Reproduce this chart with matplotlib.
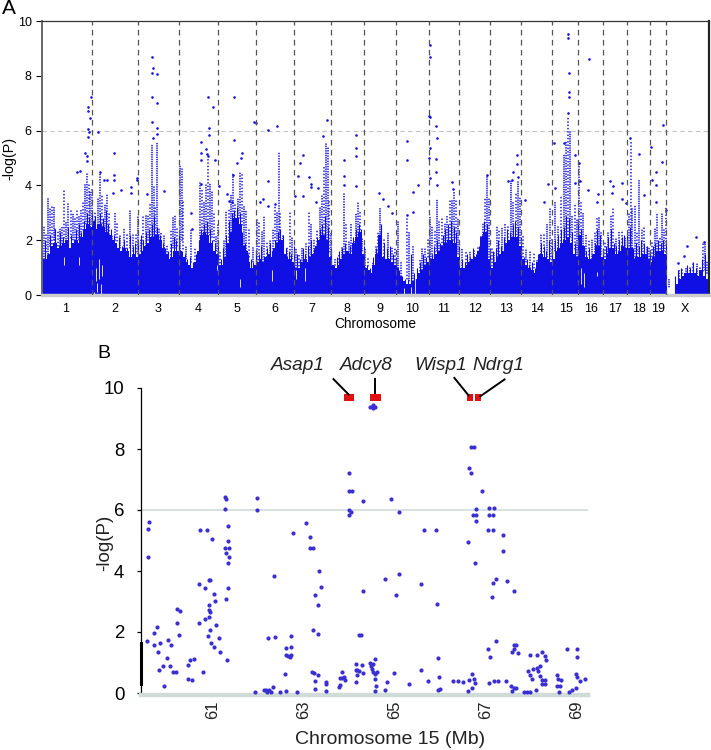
import numpy as np
import matplotlib
matplotlib.use('Agg')
import matplotlib.pyplot as plt

plt.rcParams['font.family'] = ['Liberation Sans', 'DejaVu Sans']

W, H = 711, 750

# --- Panel A: genome scan, x in plot position units ---
chrom_bounds = [42, 92, 138, 179, 218, 256, 294, 331, 364, 396, 429, 459, 490,
                521, 552, 578, 603, 627, 650, 666, 709]
chrom_labels = ['1', '2', '3', '4', '5', '6', '7', '8', '9', '10', '11', '12',
                '13', '14', '15', '16', '17', '18', '19', 'X']
chrom_centers = [66, 115, 158, 198, 236.5, 275, 312, 347, 380, 412.5, 444, 475,
                 506, 537, 565.5, 591, 615, 639, 658.5, 685]

# height of the solid mass along each chromosome
solid_tops = [
    [1.3, 1.3, 1.5, 1.8, 1.9, 1.7, 1.8, 1.9, 2.0, 1.7, 1.9, 2.0, 1.9, 2.1, 2.4, 2.6, 2.5],
    [2.7, 2.4, 2.6, 2.5, 2.3, 2.2, 2.0, 1.9, 1.7, 1.6, 1.7, 1.6, 1.4, 1.5, 1.4],
    [1.5, 1.6, 1.8, 1.9, 2.1, 2.1, 2.2, 2.0, 1.7, 1.5, 1.3, 1.4, 1.6, 1.6],
    [1.6, 1.4, 1.2, 1.1, 1.0, 1.2, 1.6, 2.2, 2.3, 2.2, 1.9, 1.6, 1.5],
    [1.1, 1.1, 1.4, 1.9, 2.3, 2.8, 2.8, 2.6, 1.8, 1.6, 1.2, 1.0, 1.1],
    [1.2, 1.3, 1.2, 1.4, 1.5, 1.4, 1.7, 1.9, 2.0, 1.5, 1.4, 1.3, 1.2],
    [1.0, 1.0, 1.2, 1.3, 1.2, 1.4, 1.5, 1.8, 2.0, 2.2, 2.0, 1.4],
    [1.1, 1.0, 1.1, 1.3, 1.5, 1.6, 1.5, 1.9, 2.1, 2.3, 1.5],
    [1.0, 0.9, 0.8, 1.1, 1.5, 2.2, 1.4, 1.3, 1.3, 1.2, 1.1],
    [1.0, 0.7, 0.5, 0.4, 0.4, 0.5, 0.6, 0.8, 0.9, 1.1, 1.2],
    [1.3, 1.3, 1.5, 1.6, 1.8, 1.9, 2.0, 2.0, 1.9, 1.4],
    [1.0, 1.0, 1.1, 1.2, 1.3, 1.4, 1.6, 2.1, 2.3, 1.3],
    [1.0, 1.2, 1.4, 1.5, 1.6, 1.9, 2.0, 2.1, 2.1, 1.8],
    [1.3, 1.1, 1.0, 0.9, 0.8, 1.2, 1.5, 1.4, 1.3, 1.2],
    [1.3, 1.6, 1.7, 1.9, 2.0, 2.1, 1.9, 1.5, 1.4],
    [2.2, 1.8, 1.4, 1.3, 1.3, 1.5, 1.8, 1.4],
    [1.3, 1.5, 1.7, 1.7, 1.5, 1.6, 1.8, 1.7],
    [1.7, 1.7, 1.3, 1.4, 1.4, 1.5, 1.5, 1.3],
    [1.2, 1.4, 1.6, 1.6, 1.6, 1.5],
]
x_tops = [0.4, 0.6, 0.7, 0.8, 0.8, 0.8, 0.8, 0.7, 0.9, 0.7, 0.6]
x_span = (675, 708)

# thin spikes rising out of the mass
spike_tops = [
    [1.6, 2.0, 1.5, 2.2, 1.9, 2.4, 1.7, 2.3, 2.1, 1.6, 2.5, 2.2, 1.9, 2.4, 2.6, 2.3, 2.7, 3.0, 2.8, 3.1],
    [3.0, 2.9, 2.6, 3.0, 2.8, 3.1, 2.6, 2.4, 2.2, 1.9, 2.1, 1.8, 2.0, 1.7, 2.2, 1.8, 1.9, 2.0],
    [1.9, 2.2, 2.0, 2.3, 2.4, 2.6, 2.9, 2.5, 2.2, 1.9, 1.7, 1.6, 1.9, 2.1, 2.0, 2.2],
    [1.9, 1.6, 1.5, 1.3, 1.4, 1.2, 1.5, 2.0, 2.4, 2.6, 2.7, 2.4, 2.0, 1.9, 1.8],
    [1.4, 1.3, 1.7, 2.2, 2.7, 3.0, 3.1, 3.2, 3.0, 2.3, 1.9, 1.5, 1.3, 1.2, 1.5],
    [1.6, 1.5, 1.8, 1.4, 1.7, 1.9, 1.6, 2.0, 2.3, 2.4, 2.2, 1.7, 1.6, 1.5, 1.8],
    [1.2, 1.5, 1.3, 1.7, 1.5, 1.8, 2.0, 1.7, 2.1, 2.4, 2.6, 2.9, 2.5, 1.7],
    [1.3, 1.1, 1.4, 1.6, 1.7, 1.9, 1.6, 1.8, 2.1, 2.4, 2.6, 2.4, 1.8],
    [1.2, 1.1, 1.0, 1.4, 1.7, 2.0, 2.6, 1.9, 1.7, 1.8, 1.5, 1.4],
    [1.3, 0.9, 0.7, 0.6, 0.6, 1.5, 0.8, 1.0, 1.2, 1.5, 1.4, 1.6],
    [1.6, 1.5, 1.8, 2.0, 1.9, 2.2, 2.4, 2.6, 2.7, 2.5, 2.3, 1.8],
    [1.2, 1.3, 1.2, 1.5, 1.4, 1.7, 1.5, 1.8, 2.2, 2.7, 2.6, 1.7],
    [1.3, 1.6, 1.7, 2.0, 1.8, 2.1, 2.4, 2.3, 2.6, 2.7, 2.5, 2.1],
    [1.7, 1.4, 1.3, 1.1, 1.2, 1.0, 1.5, 1.9, 1.8, 1.6, 2.0, 1.6],
    [1.8, 2.0, 2.2, 2.4, 2.5, 2.9, 2.8, 2.3, 1.9, 1.7],
    [2.7, 2.4, 1.8, 1.6, 1.7, 1.5, 1.9, 2.4, 2.2, 1.7],
    [1.6, 1.8, 2.1, 2.4, 1.9, 1.8, 2.0, 2.1, 2.2, 2.0],
    [2.2, 2.5, 1.7, 1.9, 1.8, 2.0, 1.9, 1.8, 1.6],
    [1.5, 1.8, 1.9, 2.0, 1.9, 2.0, 1.9],
]
x_spikes = [.7, .9, 1.0, .8, 1.1, 1.0, 1.2, 1.0, .9, 1.3, 1.5, 1.0]

# white gaps in the mass: position, low, high
gaps = [(94, 0.0, 0.12), (95.5, 0.5, 1.0), (97, 0.1, 0.45), (98.5, 0.6, 1.3), (100.5, 0.0, 0.4),
        (101.5, 0.7, 1.1), (64, 1.1, 1.4), (79, 1.1, 1.4), (217, 0.9, 1.1), (239.5, 0.3, 0.6),
        (272, 0.5, 0.9), (304.5, 0.5, 1.0), (296, 0.6, 0.9), (404, 0.0, 0.25), (411, 0.0, 0.3),
        (414.5, 0.0, 0.9), (581, 0.4, 1.0), (583.5, 0.3, 0.8), (597, 0.7, 0.85), (668, 0.0, 0.2)]

# speckled columns above the mass: position, low, high
stems = [
    (44, 1.3, 2.5), (46, 1.5, 2.2), (48, 1.5, 3.5), (50, 1.8, 3.2), (52, 1.8, 3.2), (53.5, 2, 3.2),
    (55, 1.7, 2.4), (58, 1.7, 2.3), (60, 1.7, 2.4), (62, 1.8, 2.5), (64, 2, 3.8), (65.5, 1.8, 2.65),
    (68, 1.8, 3.4), (71, 2, 3.1), (73, 2, 3.0), (75, 2, 2.8), (77, 2, 3.1), (79, 2, 2.9), (81, 2.1, 3.1),
    (83, 2.3, 3.4), (85, 2.6, 4.1), (87, 2.6, 4.4), (88.5, 2.6, 4.0), (90, 2.5, 3.8), (92, 2.6, 3.9),
    (95, 2.4, 3.0), (98, 2.5, 3.5), (100, 2.5, 4.5), (102, 2.3, 3.6), (105, 2, 3.3), (107, 2, 3.7),
    (109, 1.9, 3.0), (112, 1.8, 2.2), (115, 2, 3), (117, 1.9, 2.7), (120, 1.7, 2.2), (124, 1.7, 2.4),
    (127, 1.5, 2.3), (130, 1.7, 3.1), (133, 1.6, 2.2), (136, 1.5, 2.3), (137.5, 1.5, 2.9),
    (141, 1.6, 2.0), (143, 1.8, 2.9), (146, 1.8, 2.9), (148, 2, 2.9), (150, 2.1, 3.4), (152, 2.1, 5.5),
    (153.5, 2.1, 4.0), (155, 2.1, 3.2), (157, 2.2, 5.6), (159, 2, 2.5), (161, 1.8, 2.3), (164, 1.7, 2.2),
    (167, 1.4, 1.8), (171, 1.4, 2.4), (173, 1.7, 2.9), (175, 1.7, 2.9), (177, 1.7, 2.4), (180, 1.6, 4.7),
    (181.5, 2, 4.6), (183, 1.6, 3.4), (186, 1.3, 1.8), (191, 1.2, 2.4), (195, 1.1, 1.7), (198, 1.3, 1.6),
    (200, 1.8, 4.1), (202, 1.8, 3.9), (204, 2.2, 3.4), (206, 2.2, 4.1), (208, 2.2, 5.0), (210, 2.2, 4.1),
    (212, 2.1, 3.8), (214, 1.9, 3), (216, 1.6, 2.2), (217.5, 1.5, 2.6), (220, 1.1, 1.6), (224, 1.2, 2),
    (226, 1.4, 3.1), (229, 1.8, 3.1), (231, 1.8, 3.7), (233, 2, 4.4), (235, 2.6, 3.3), (238, 2.8, 3.5),
    (240, 2.8, 4.5), (242, 2.5, 4.4), (244, 1.8, 3.3), (246, 1.6, 3.1), (249, 1.3, 2.5), (253, 1.2, 1.8),
    (257, 1.2, 2.8), (259, 1.2, 2.7), (262, 1.2, 2.3), (264, 1.2, 2.9), (267, 1.3, 1.9), (270, 1.2, 2.0),
    (273, 1.5, 2.4), (275, 1.9, 3.3), (277, 1.9, 3.0), (278.5, 2, 5.2), (280, 1.8, 3.0), (283, 1.4, 2.2),
    (287, 1.3, 1.8), (290, 1.2, 3.0), (292, 1.3, 2.1), (296, 1, 1.7), (299, 1, 1.5), (302, 1.1, 1.7),
    (306, 1.1, 1.9), (309, 1.2, 3), (311, 1.4, 2.6), (314, 1.3, 2.0), (317, 1.4, 2.4), (320, 1.5, 3.2),
    (322, 1.8, 3.6), (324, 1.9, 4.7), (326, 2.0, 5.5), (327.5, 2.0, 5.4), (329, 1.5, 3.5), (331, 1.3, 2.3),
    (335, 1.1, 1.3), (339, 1, 1.5), (342, 1.2, 1.8), (344, 1.4, 3.7), (346, 1.4, 2.6), (349, 1.5, 2),
    (351, 1.6, 2.6), (354, 1.5, 2.0), (356, 2, 3.0), (358, 2.0, 3.4), (360, 2.2, 3.1), (362, 1.6, 2.1),
    (365, 1.0, 1.7), (368, 1, 1.4), (373, 0.8, 1.2), (376, 1.0, 1.8), (378, 1.3, 2.3), (379.5, 1.4, 3.2),
    (381, 1.5, 2.3), (384, 1.3, 2.1), (388, 1.3, 2.3), (392, 1.3, 1.7), (395, 1.1, 1.7), (398, 1.0, 2.7),
    (401, .7, 1.2), (407, .5, 2.9), (409, .5, 2.3), (413, .5, 1.8), (420, .8, 1.3), (422, .9, 1.7),
    (425, 1.1, 1.7), (428, 1.3, 2.0), (430, 1.3, 2.9), (432, 1.3, 2.5), (435, 1.5, 2.4), (437, 1.6, 3.5),
    (439, 1.6, 2.7), (442, 1.7, 2.9), (445, 1.9, 2.6), (447, 1.9, 2.9), (450, 2, 3.5), (452, 2, 3.5),
    (454, 2, 3.8), (456, 2, 3.5), (458, 1.5, 2.8), (462, 1.0, 1.7), (466, 1.1, 1.6), (470, 1.2, 1.6),
    (474, 1.3, 1.6), (478, 1.4, 1.8), (481, 1.6, 2.2), (483, 1.7, 2.6), (485, 2.2, 3.5), (487, 2.3, 4.3),
    (489, 1.4, 3.5), (492, 1.0, 1.8), (494, 1.1, 1.6), (497, 1.3, 2.5), (499, 1.4, 2.4), (502, 1.5, 2.5),
    (505, 1.6, 2.6), (508, 1.8, 2.5), (511, 1.9, 4.2), (513, 2.1, 3.4), (516, 2.0, 3.7), (518, 2.1, 4.2),
    (520, 1.9, 3.6), (523, 1.3, 2.2), (526, 1.2, 1.7), (530, 1.0, 1.6), (534, 0.9, 1.5), (537, 1, 1.3),
    (541, 1.3, 2.2), (544, 1.5, 2.3), (547, 1.4, 2.6), (550, 1.3, 3.2), (552, 1.2, 2.1), (555, 1.6, 3.4),
    (558, 1.7, 2.5), (561, 1.9, 3.6), (564, 2.0, 5.1), (566, 2.1, 5.6), (568, 2.1, 6.5), (569.5, 2.1, 6.0),
    (572, 1.9, 2.9), (575, 1.6, 3.3), (577, 1.4, 2.8), (579, 2.2, 4.8), (581, 2.2, 3.4), (583, 1.8, 3.0),
    (586, 1.5, 2.2), (589, 1.4, 2.0), (592, 1.3, 2.0), (595, 1.4, 2.3), (597, 1.6, 2.9), (599, 1.7, 2.9),
    (601, 1.5, 2.3), (605, 1.3, 1.9), (608, 1.5, 2.3), (611, 1.7, 2.9), (613, 1.7, 3.2), (616, 1.6, 2.1),
    (619, 1.6, 2.3), (622, 1.7, 2.3), (625, 1.7, 2.1), (629, 1.6, 3.0), (630.5, 1.7, 5.6), (632, 1.7, 3.2),
    (635, 1.3, 3.3), (637, 1.3, 2.3), (639.3, 1.5, 4.2), (642, 1.5, 2.4), (644, 1.4, 2.5), (647, 1.4, 1.8),
    (649, 1.3, 1.7), (652, 1.2, 1.9), (655, 1.4, 2.4), (657, 1.5, 3.0), (660, 1.6, 2.1), (662, 1.6, 3.0),
    (664, 1.6, 2.4), (665.5, 1.5, 3.2), (669, .3, .6), (679, .4, .9), (682, .6, 1.0), (686, .7, 1.0),
    (690, .7, 1.0), (693, .8, 1.2), (697, .7, 1.2), (700, .7, 1.0), (703, .8, 1.9), (705, .9, 1.95),
    (707, .8, 1.2),
]

# single points standing clear of the mass
peaks_x = [152, 152.7, 152.3, 157, 152.3, 157, 152.3, 157.3, 157.3, 152.7,
           90.7, 87.7, 87.7, 89.7, 87.7, 89.3, 98, 87.7, 84.7, 87.3, 86.7, 76.7, 80.3,
           114, 114, 114, 100.3, 104.3, 106.7, 121, 113.3, 131, 131, 137.3, 137.3, 147.3, 164.3,
           208, 212.7, 209, 209, 201, 201.3, 206, 207.3, 208.3, 214.7, 201.3, 200.7, 191, 191.7,
           234.3, 234.3, 237.3, 233.3, 242, 241, 226.7, 229, 231.7, 219,
           254, 256, 267.7, 276.7, 268.3, 260, 262.7, 268, 274.7,
           300.3, 303.3, 298.3, 309.3, 310.7, 310.7, 318.3, 303.3, 295, 316, 327.3, 323.3,
           344, 356, 356, 356, 344.3, 344.3, 356,
           379, 383.3, 387.7, 392.3, 407.3, 407.3, 417.7, 413.3, 413, 407.3,
           429.7, 429.7, 429, 430.3, 436.3, 436.7, 430.3, 429, 436.3, 436.3, 429.7, 437, 451.7, 453.3,
           486.7, 517, 517, 512.7, 511.7, 508.3, 518.3, 525,
           554, 548.3, 555, 544, 568.3, 568.3, 569, 569, 569, 568.3, 564.3, 575, 579, 575.3, 580,
           589, 587.7, 598.3, 597, 609.7, 613.3, 612.3, 621.7, 621.7, 625.7,
           630, 639, 644.3, 663.3, 651, 662.3, 656, 652.3, 656, 656, 665.7,
           695.7, 686.7, 684.3, 677.7, 704.3]
peaks_y = [8.7, 8.3, 8.1, 8.05, 7.23, 7.0, 6.33, 6.1, 5.88, 5.73,
           7.24, 6.87, 6.73, 6.45, 6.07, 5.95, 5.96, 5.76, 5.18, 5.06, 4.9, 4.49, 4.51,
           5.2, 4.39, 4.2, 4.5, 4.2, 4.2, 3.83, 3.72, 3.93, 3.74, 4.27, 4.2, 3.68, 3.78,
           7.24, 6.85, 6.1, 5.83, 5.59, 5.18, 5.34, 5.15, 5.06, 4.94, 4.94, 4.05, 3.0, 2.4,
           7.23, 5.67, 4.82, 4.39, 5.18, 5.0, 3.7, 3.44, 3.41, 3.96,
           6.33, 6.26, 6.02, 6.17, 4.15, 3.41, 3.5, 3.26, 3.32,
           4.82, 5.1, 4.35, 4.29, 4.05, 3.94, 3.9, 3.6, 3.6, 3.41, 6.4, 5.8,
           4.94, 5.83, 5.37, 5.08, 4.33, 4.02, 3.96,
           3.72, 3.51, 3.23, 2.99, 5.63, 4.91, 4.02, 3.76, 3.04, 2.91,
           9.12, 8.7, 6.52, 6.49, 6.16, 5.73, 5.37, 5.0, 4.96, 4.5, 4.27, 4.0, 4.11, 3.87,
           4.37, 5.1, 4.77, 4.5, 4.2, 4.15, 4.29, 3.48,
           5.55, 4.05, 3.9, 3.41, 9.54, 9.39, 8.1, 7.4, 7.22, 6.65, 5.55, 5.1, 4.82, 4.09, 4.15,
           8.63, 3.84, 3.7, 3.38, 4.17, 3.96, 3.72, 4.09, 3.51, 3.35,
           5.72, 5.13, 3.66, 6.22, 5.41, 4.84, 4.48, 4.18, 4.02, 3.41, 3.11,
           2.11, 1.79, 1.43, 1.18, 1.95]

# --- Panel B: chromosome 15 detail ---
b_mb = [59.61, 59.59, 59.59, 59.58, 59.72, 59.72, 59.79, 59.81, 59.83, 59.85, 59.92, 59.94, 60.01, 60.04,
        60.07, 60.10, 60.14, 60.2, 60.23, 60.29, 60.24, 60.28, 60.48, 60.51, 60.60, 60.47, 60.55, 60.72,
        60.74, 60.88, 60.99, 60.84, 60.93, 60.96, 61.04, 61.06, 60.94, 60.93, 60.96, 60.72, 60.84, 60.93,
        60.95, 60.91, 60.98, 61.03, 61.08, 61.16, 61.17, 60.80, 61.28, 61.31, 61.28, 61.34, 61.34, 61.28,
        61.36, 61.30, 61.37, 61.34, 61.35, 61.30, 61.32, 61.94, 61.99, 61.99, 62.13, 62.18, 62.2, 62.24,
        62.33, 62.28, 62.49, 62.61, 62.85, 62.22, 62.38, 62.36, 62.72, 62.61, 62.72, 62.62, 62.66, 62.70,
        62.73, 62.6, 62.77, 63.05, 63.15, 63.15, 63.2, 63.34, 63.38, 63.25, 63.31, 63.21, 63.31, 63.18,
        63.23, 63.33, 63.26, 63.26, 63.49, 63.49, 63.49, 63.85, 63.8, 63.85, 63.9, 63.92, 63.8, 63.78,
        64.01, 64.01, 64.06, 63.99, 64.01, 64.05, 64.15, 64.15, 64.21, 64.18, 64.15, 64.23,
        64.31, 64.93, 65.09, 64.53, 64.47, 64.58, 64.53, 65.65, 65.91, 64.79, 65.09, 64.31, 65.04, 65.58,
        65.93, 64.26, 65.96, 66.67, 66.73, 66.64, 66.68, 66.92, 66.79, 66.71, 66.79, 66.79, 66.62, 66.76,
        67.08, 67.17, 67.08, 67.15, 67.05, 67.15, 67.37, 67.37, 67.15, 67.23, 67.47, 67.61, 67.14,
        67.23, 67.05, 67.09, 67.62, 67.67, 67.61, 67.58, 67.70, 67.96, 68.12, 68.23, 68.29, 68.31, 68.79,
        69.0, 69.0, 64.28, 64.47, 64.53, 64.58, 64.48, 64.5, 64.18, 64.31, 64.53, 64.61, 64.58, 64.58,
        64.83, 64.6, 64.57, 64.8, 64.99, 65.31, 65.58, 65.73, 65.98, 65.99, 65.96, 66.29, 66.40, 66.50,
        66.69, 66.64, 66.73, 66.77, 66.69, 66.61, 67.08, 67.17, 67.26, 67.45, 67.55, 67.61, 67.67, 67.57,
        67.84, 67.9, 67.96, 68.1, 67.93, 67.96, 68.02, 68.04, 68.12, 68.18, 68.15, 68.19, 68.23, 68.3,
        68.23, 68.3, 68.57, 68.59, 68.64, 68.57, 68.63, 68.61, 68.82, 68.88, 68.97, 68.97, 68.99, 69.07, 69.17]
b_logp = [5.62, 5.38, 4.45, 1.69, 1.58, 1.98, 2.15, 1.36, 0.76, 1.64, 0.87, 0.22, 1.15, 1.75,
          0.87, 1.58, 0.69, 0.69, 2.75, 2.70, 2.28, 1.91, 0.91, 1.09, 1.12, 0.46, 0.41, 3.58,
          5.33, 5.33, 5.04, 3.44, 3.69, 3.69, 3.23, 3.02, 2.89, 2.73, 2.64, 2.28, 2.42, 2.49,
          2.05, 1.88, 1.64, 1.51, 2.23, 1.80, 1.36, 0.69, 6.44, 6.35, 6.02, 5.48, 4.98, 4.74,
          4.74, 4.59, 4.45, 4.26, 3.43, 3.09, 1.08, 0.04, 6.39, 6.0, 0.09, 0.11, 0.04, 0.09,
          0.19, 0.04, 0.04, 0.07, 0.04, 1.80, 1.82, 3.83, 1.87, 1.48, 1.51, 1.26, 1.22, 1.18,
          1.26, 0.62, 5.24, 5.58, 5.11, 4.75, 4.75, 4.01, 3.49, 3.22, 2.90, 2.07, 1.94, 0.69,
          0.64, 0.6, 0.4, 0.13, 0.35, 0.30, 0.07, 0.69, 0.49, 0.49, 0.52, 0.41, 0.27, 0.19,
          7.2, 6.63, 6.63, 6.0, 5.85, 5.93, 0.96, 0.76, 0.71, 0.6, 0.35, 1.89,
          6.29, 6.36, 5.92, 9.44, 9.38, 9.38, 9.36, 5.35, 5.35, 3.73, 3.91, 3.36, 3.22, 3.57,
          2.93, 1.89, 1.16, 8.07, 8.07, 7.37, 7.21, 6.63, 6.02, 5.84, 5.84, 5.63, 4.95, 4.25,
          6.06, 6.06, 5.83, 5.83, 5.35, 5.35, 5.19, 4.66, 3.62, 3.73, 3.66, 3.35, 3.14,
          1.72, 1.45, 1.19, 1.58, 1.58, 1.45, 1.33, 1.30, 1.26, 1.23, 1.34, 1.2, 1.07, 1.45,
          1.45, 1.18, 0.93, 1.0, 0.96, 1.11, 0.87, 0.79, 0.76, 0.66, 0.68, 0.69, 0.62, 0.47,
          0.35, 0.22, 0.05, 0.11, 0.64, 0.29, 0.74, 0.4, 0.51, 0.14, 0.09, 0.4, 0.4, 0.35,
          0.62, 0.44, 0.46, 0.33, 0.15, 0.07, 0.33, 0.38, 0.4, 0.4, 0.22, 0.15, 0.15, 0.07,
          0.04, 0.04, 0.04, 0.11, 0.71, 0.6, 0.46, 0.79, 0.82, 0.9, 0.73, 0.55, 0.41, 0.44,
          0.31, 0.29, 0.6, 0.46, 0.44, 0.22, 0.22, 0.04, 0.04, 0.09, 0.15, 0.62, 0.52, 0.38, 0.46]

gene_names = ['Asap1', 'Adcy8', 'Wisp1', 'Ndrg1']
gene_start = [63.88, 64.45, 66.58, 66.76]
gene_end = [64.12, 64.70, 66.71, 66.89]
gene_logp = 9.69
leader_x = [(63.66, 63.99), (64.58, 64.58), (66.31, 66.62), (67.41, 66.88)]
leader_y = [(10.29, 9.79), (10.29, 9.85), (10.33, 9.76), (10.28, 9.73)]
gene_label_px = [297.5, 366.5, 441, 498.5]

BLUE = '#1010e4'
PURPLE = '#3a2fd2'
PALE = '#d0dcd8'


def axes_px(left, top, right, bottom):
    return fig.add_axes([left / W, 1 - bottom / H, (right - left) / W, (bottom - top) / H])


fig = plt.figure(figsize=(W / 100, H / 100), dpi=100)

# --- A ---
ax = axes_px(42, 21, 708.5, 295)
ax.set_xlim(42, 708.5)
ax.set_ylim(0, 10)


def draw_mass(tops, spikes, x0, x1):
    edges = np.linspace(x0, x1, len(tops) + 1)
    ax.bar((edges[:-1] + edges[1:]) / 2, tops, width=(edges[1] - edges[0]) * 1.2, color=BLUE, linewidth=0)
    ax.vlines(np.linspace(x0, x1, len(spikes)), 0, spikes, color=BLUE, linewidth=0.8)


for i, tops in enumerate(solid_tops):
    draw_mass(tops, spike_tops[i], chrom_bounds[i], chrom_bounds[i + 1])
draw_mass(x_tops, x_spikes, x_span[0], x_span[1])

gap_x, gap_lo, gap_hi = zip(*gaps)
ax.vlines(gap_x, gap_lo, gap_hi, color='white', linewidth=0.6, zorder=2)

stem_x, stem_lo, stem_hi = zip(*stems)
dot_styles = [(0, (0.01, 1.5)), (0.6, (0.01, 1.9)), (1.1, (0.01, 1.3))]
ax.vlines(stem_x, stem_lo, stem_hi, color=BLUE, linewidth=1.25, linestyles=dot_styles, capstyle='round')
ax.scatter(peaks_x, peaks_y, s=3.5, color=BLUE, linewidths=0, zorder=3)

ax.axhline(6, color='#c4c4c4', linewidth=0.8, linestyle=(0, (4, 3)), zorder=1)
for b in chrom_bounds[1:-1]:
    ax.axvline(b, color='#555555', linewidth=0.9, linestyle=(0, (4.5, 3.5)), zorder=4)

ax.set_xticks(chrom_centers)
ax.set_xticklabels(chrom_labels, fontsize=9)
ax.tick_params(axis='x', length=0, pad=6)
ax.set_yticks([0, 2, 4, 6, 8, 10])
ax.tick_params(axis='y', labelsize=9, length=4.3, width=0.8, pad=3)
ax.spines['left'].set_linewidth(1.4)
ax.spines['left'].set_color('#666666')
ax.spines['top'].set_linewidth(0.9)
ax.spines['top'].set_color('#333333')
ax.spines['right'].set_linewidth(1.6)
ax.spines['right'].set_color('#222222')
ax.spines['bottom'].set_linewidth(2.5)
ax.spines['bottom'].set_color('#cccccc')

fig.text(375 / W, 1 - 324 / H, 'Chromosome', fontsize=9.8, ha='center', va='center')
fig.text(9 / W, 1 - 158 / H, '-log(P)', fontsize=10.3, rotation=90, ha='center', va='center')
fig.text(2 / W, 1 - 9 / H, 'A', fontsize=15, ha='left', va='center')

# --- B ---
bx = axes_px(141, 388, 588, 693)
bx.set_xlim(59.44, 69.24)
bx.set_ylim(0, 10)

# set_position resets the axis, so it comes before the ticks
bx.spines['bottom'].set_position(('outward', 1.5))
bx.axhline(6, color=PALE, linewidth=1.2, zorder=1)
bx.scatter(b_mb, b_logp, s=9, color=PURPLE, linewidths=0, zorder=3, clip_on=False)

for x0, x1 in zip(gene_start, gene_end):
    bx.fill_between([x0, x1], gene_logp - 0.12, gene_logp + 0.12, color='#e2110f', linewidth=0, zorder=4)
for lx, ly in zip(leader_x, leader_y):
    bx.plot(lx, ly, color='black', linewidth=1.4, clip_on=False, zorder=4)
for name, px in zip(gene_names, gene_label_px):
    fig.text(px / W, 1 - 366 / H, name, fontsize=13.7, style='italic', color='#222222', ha='center', va='center')

bx.plot([59.44, 59.44], [0.3, 1.65], color='black', linewidth=2.2, clip_on=False, zorder=5)

bx.set_xticks([61, 63, 65, 67, 69])
bx.set_xticklabels(['61', '63', '65', '67', '69'], rotation=90, fontsize=12, color='#222222')
bx.tick_params(axis='x', length=0, pad=4)
bx.set_yticks([0, 2, 4, 6, 8, 10])
bx.tick_params(axis='y', labelsize=13.4, length=3, width=0.9, pad=9)
for s in ['top', 'right']:
    bx.spines[s].set_visible(False)
bx.spines['left'].set_linewidth(0.9)
bx.spines['bottom'].set_linewidth(3.2)
bx.spines['bottom'].set_color(PALE)

fig.text(390 / W, 1 - 739 / H, 'Chromosome 15 (Mb)', fontsize=14, ha='center', va='center', color='#222222')
fig.text(105 / W, 1 - 543 / H, '-log(P)', fontsize=13.5, rotation=90, ha='center', va='center', color='#222222')
fig.text(97 / W, 1 - 353 / H, 'B', fontsize=14, ha='left', va='center')

fig.savefig('out.png', dpi=100)
